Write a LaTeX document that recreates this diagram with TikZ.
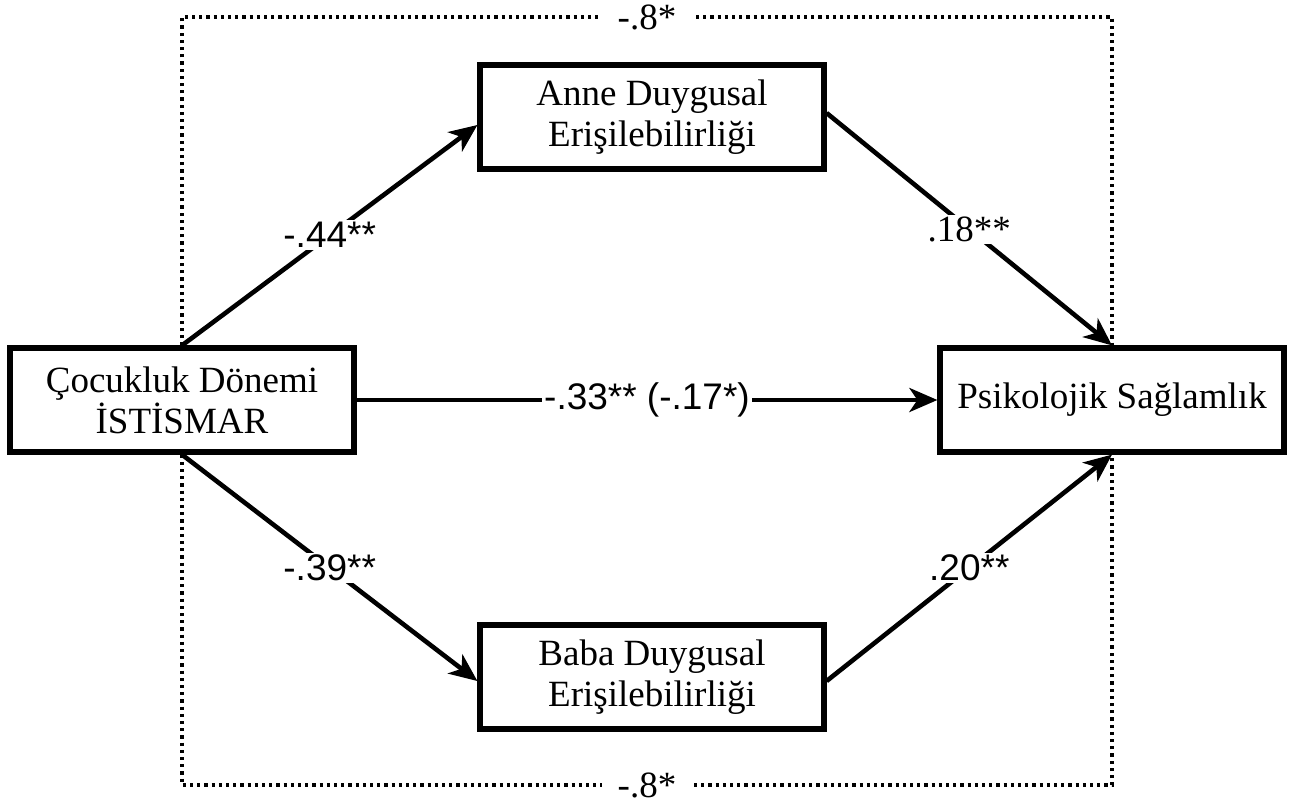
\documentclass[tikz,border=0pt]{standalone}
\usepackage{fontspec}
\setmainfont{Liberation Serif}
\newfontfamily\lblsans{Liberation Sans}
\usetikzlibrary{arrows.meta}
\newcommand{\boxfont}{\fontsize{18.5}{20.5}\selectfont}
\newcommand{\coeffont}{\lblsans\fontsize{18.5}{20}\selectfont}
\newcommand{\coefserif}{\rmfamily\fontsize{18.5}{20}\selectfont}
\tikzset{
  varbox/.style={draw,line width=2.6pt,minimum width=172pt,minimum height=52pt,align=center,font=\boxfont,inner sep=2pt},
  path/.style={line width=2.3pt,-{Stealth[length=14pt,width=12pt,inset=4pt]}},
  total/.style={line width=1.6pt,dotted},
  coef/.style={fill=white,inner sep=1pt,font=\coeffont}
}
\begin{document}
\begin{tikzpicture}[x=0.5pt,y=-0.5pt]
\useasboundingbox (0,0) rectangle (1294,803);
\node[varbox] (ist) at (182,400) {Çocukluk Dönemi\\İSTİSMAR};
\node[varbox] (anne) at (652,117) {Anne Duygusal\\Erişilebilirliği};
\node[varbox] (baba) at (652,677) {Baba Duygusal\\Erişilebilirliği};
\node[varbox] (psi) at (1112,400) {Psikolojik Sağlamlık};
\coordinate (tl) at (182,17);
\coordinate (tr) at (1112,17);
\coordinate (bl) at (182,785);
\coordinate (br) at (1112,785);
\draw[total] (ist.north) -- (tl) -- node[coef,font=\coefserif,inner xsep=8pt,inner ysep=0pt] {-.8*} (tr) -- (psi.north);
\draw[total] (ist.south) -- (bl) -- node[coef,font=\coefserif,inner xsep=8pt,inner ysep=0pt] {-.8*} (br) -- (psi.south);
\draw[path] (ist.north) -- node[coef] {-.44**} ([yshift=-4pt]anne.west);
\draw[path] ([yshift=2pt]anne.east) -- node[coef,font=\coefserif] {.18**} (psi.north);
\draw[path] (ist.south) -- node[coef] {-.39**} ([yshift=-2pt]baba.west);
\draw[path] ([yshift=-2pt]baba.east) -- node[coef] {.20**} (psi.south);
\draw[path] (ist.east) -- node[coef] {-.33** (-.17*)} (psi.west);
\end{tikzpicture}
\end{document}
